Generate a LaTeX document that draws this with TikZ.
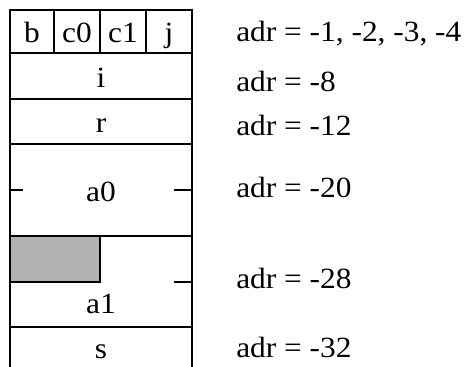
\documentclass[tikz,border=0pt]{standalone}
\usepackage{fontspec}
\setmainfont[FakeStretch=1.07]{Liberation Serif}
\usetikzlibrary{positioning}
\begin{document}
\begin{tikzpicture}[x=0.75pt, y=-0.75pt]
  \tikzstyle{frame} = [line width=1.5pt]
  \tikzstyle{field} = [anchor=base, inner sep=0pt, font=\fontsize{22}{26}\selectfont]
  \tikzstyle{adr} = [anchor=base west, inner sep=0pt, font=\fontsize{22}{26}\selectfont]
  \useasboundingbox (0,0) rectangle (468,367);
  % stack frame
  \fill [black!30, draw=black, line width=1.5pt] (10,236) rectangle (100,282);
  \draw [frame] (10,367) -- (10,10) -- (192,10) -- (192,367);
  \foreach \y in {53,99,144,236,327}
    \draw [frame] (10,\y) -- (192,\y);
  \foreach \x in {54,100,146}
    \draw [frame] (\x,10) -- (\x,53);
  \draw [frame] (10,190) -- (23,190);
  \draw [frame] (174,190) -- (192,190);
  \draw [frame] (174,282) -- (192,282);
  % fields
  \node [field] (b) at (32,43) {b};
  \node [field] (c0) at (77,43) {c0};
  \node [field] (c1) at (123,43) {c1};
  \node [field] (j) at (169,43) {j};
  \node [field] (i) at (101,88) {i};
  \node [field] (r) at (101,133) {r};
  \node [field] (a0) at (101,202) {a0};
  \node [field] (a1) at (101,313) {a1};
  \node [field] (s) at (101,358) {s};
  % addresses
  \node [adr] (adrb) at (236,42) {adr = -1, -2, -3, -4};
  \node [adr] (adri) at (236,92) {adr = -8};
  \node [adr] (adrr) at (236,136) {adr = -12};
  \node [adr] (adra0) at (236,198) {adr = -20};
  \node [adr] (adra1) at (236,289) {adr = -28};
  \node [adr] (adrs) at (236,357) {adr = -32};
\end{tikzpicture}
\end{document}
